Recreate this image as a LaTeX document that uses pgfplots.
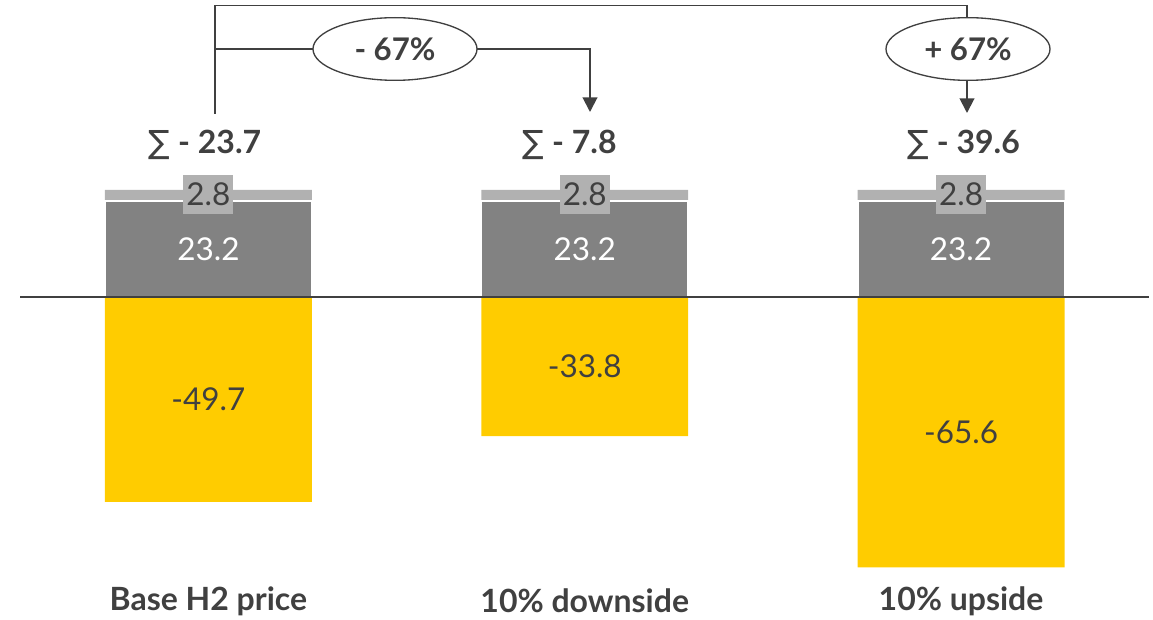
\documentclass[border=0pt]{standalone}
\usepackage{pgfplots}
\pgfplotsset{compat=1.18}
\usepackage{fontspec}
\setmainfont{Lato}
\newfontfamily\symfont{DejaVu Sans}
\usetikzlibrary{arrows.meta}

\definecolor{h2yellow}{HTML}{FFCC00}
\definecolor{h2gray}{HTML}{828282}
\definecolor{h2light}{HTML}{B1B1B1}
\definecolor{h2text}{HTML}{404040}

\newcommand{\valfont}{\fontsize{23.6}{25}\selectfont}
\newcommand{\boldfont}{\fontsize{24}{26}\selectfont\bfseries}
\newcommand{\pctfont}{\fontsize{23.4}{25}\selectfont\bfseries}

\begin{document}
\begin{tikzpicture}
\path[use as bounding box] (0,0) rectangle (864.75pt,464.25pt);
\begin{axis}[
  at={(0,0)}, anchor=south west,
  scale only axis, width=864.75pt, height=464.25pt,
  xmin=-0.5538, xmax=2.51, ymin=-78.16, ymax=72.09,
  hide axis, clip=false,
  ybar, bar width=0.55, bar shift=0pt,
]
% other costs on top of the main cost block
\addplot[fill=h2light, draw=none] coordinates {(0,26.0) (1,26.0) (2,26.0)};
\addplot[fill=h2gray, draw=white, line width=1.5pt] coordinates {(0,23.2) (1,23.2) (2,23.2)};
% revenue (negative)
\addplot[fill=h2yellow, draw=none] coordinates {(0,-49.7) (1,-33.8) (2,-65.6)};

% zero line
\draw[h2text, line width=1.1pt] (axis cs:-0.5,0) -- (axis cs:2.5,0);

% segment labels
\pgfplotsinvokeforeach{0,1,2}{
  \node[white, font=\valfont] at (axis cs:#1,11.6) {23.2};
  \node[fill=h2light, text=h2text, font=\valfont, inner sep=0pt,
        minimum width=37.5pt, minimum height=29pt] at (axis cs:#1,24.9) {2.8};
}
\node[text=h2text, font=\valfont] at (axis cs:0,-24.85) {-49.7};
\node[text=h2text, font=\valfont] at (axis cs:1,-16.9) {-33.8};
\node[text=h2text, font=\valfont] at (axis cs:2,-32.8) {-65.6};

% totals
\node[text=h2text, font=\boldfont] at (axis cs:-0.009,36.9) {{\symfont\mdseries ∑} - 23.7};
\node[text=h2text, font=\boldfont] at (axis cs:0.960,36.9) {{\symfont\mdseries ∑} - 7.8};
\node[text=h2text, font=\boldfont] at (axis cs:2.007,36.9) {{\symfont\mdseries ∑} - 39.6};

% category names
\node[text=h2text, font=\boldfont] at (axis cs:0,-73.8) {Base H2 price};
\node[text=h2text, font=\boldfont] at (axis cs:1,-73.8) {10\% downside};
\node[text=h2text, font=\boldfont] at (axis cs:2,-73.8) {10\% upside};
\end{axis}

% change brackets (pixel grid, origin top left)
\begin{scope}[x=0.75pt, y=-0.75pt, shift={(0pt,464.25pt)}, h2text]
  \draw[line width=0.9pt] (215,114) -- (215,5.5) -- (568,5.5);
  \draw[line width=1.4pt] (568,5.5) -- (967,5.5) -- (967,17);
  \draw[line width=0.9pt] (215,49) -- (313,49);
  \draw[line width=1pt] (395,49) ellipse [x radius=61.5pt, y radius=23.5pt];
  \node[font=\pctfont] at (395,49) {- 67\%};
  \draw[line width=1.5pt, -{Triangle[width=11pt,length=11pt]}] (477,49) -- (590,49) -- (590,112);
  \draw[line width=1pt] (968,49) ellipse [x radius=61.5pt, y radius=23.5pt];
  \node[font=\pctfont] at (968,49) {+ 67\%};
  \draw[line width=1.5pt, -{Triangle[width=11pt,length=11pt]}] (967,81) -- (967,113);
\end{scope}
\end{tikzpicture}
\end{document}
